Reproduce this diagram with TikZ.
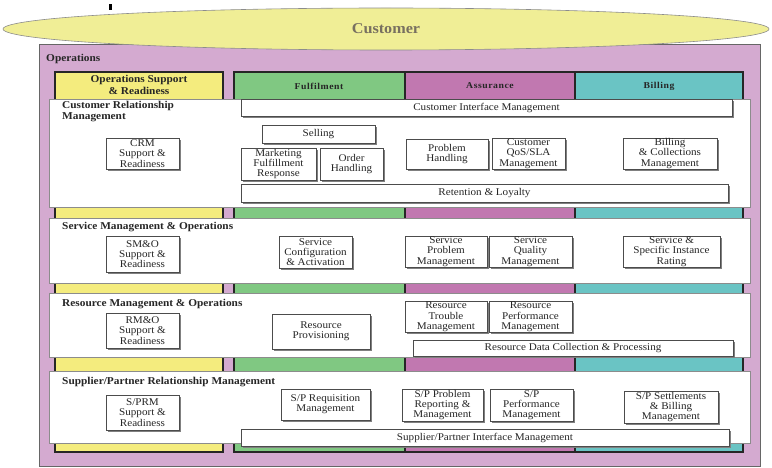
\documentclass[tikz,border=0pt]{standalone}
\usepackage{fontspec}
\setmainfont{Liberation Serif}[FakeStretch=1.08]
\usetikzlibrary{shadows,shapes.geometric}
\definecolor{opsfill}{RGB}{212,170,208}
\definecolor{colyel}{RGB}{244,236,126}
\definecolor{colgrn}{RGB}{128,200,130}
\definecolor{colmag}{RGB}{193,120,176}
\definecolor{colcyn}{RGB}{106,196,196}
\definecolor{ellfill}{RGB}{240,238,150}
\definecolor{custtext}{RGB}{120,112,96}
\tikzset{
  fbox/.style={draw=black!70, line width=0.5pt, fill=white, inner sep=0.5pt,
    align=center, font=\fontsize{10.3}{10.3}\selectfont, text=black!85,
    drop shadow={shadow xshift=1.6pt, shadow yshift=-1.6pt, fill=black!50, opacity=1}},
  band/.style={draw=black!45, line width=0.6pt, fill=white},
  column/.style={draw=black!85, line width=1.1pt},
  bandtitle/.style={font=\fontsize{10.5}{11.5}\selectfont\bfseries, text=black!85, inner sep=0pt, align=left},
  colhead/.style={font=\fontsize{9}{10}\selectfont\bfseries\addfontfeature{LetterSpace=6}, text=black!85, inner sep=0pt, align=center},
}
\newcommand\mybox[6]{\node[fbox, minimum width={(#4-#2)*1pt}, minimum height={(#5-#3)*1pt}] (#1) at ({(#2+#4)/2},{(#3+#5)/2}) {#6};}
\begin{document}
\begin{tikzpicture}[x=1pt,y=-1pt]
\useasboundingbox (0,0) rectangle (772,468);
\fill[white] (0,0) rectangle (772,468);
% operations frame
\draw[fill=opsfill, draw=black!60, line width=0.6pt] (39,44) rectangle (760,466);
\node[font=\fontsize{10.5}{11}\selectfont\bfseries, text=black!85, anchor=west, inner sep=0pt] (opslabel) at (46,59) {Operations};
% columns
\draw[column, fill=colyel] (55,72) rectangle (223,452);
\draw[column, fill=colgrn] (234,72) rectangle (405,452);
\draw[column, fill=colmag] (405,72) rectangle (575,452);
\draw[column, fill=colcyn] (575,72) rectangle (743,452);
\node[colhead, font=\fontsize{10.5}{11.5}\selectfont\bfseries] (hosr) at (139,85) {Operations Support\\\& Readiness};
\node[colhead] (hful) at (319,86) {Fulfilment};
\node[colhead] (hass) at (490,86) {Assurance};
\node[colhead] (hbil) at (659,86) {Billing};
% bands
\draw[band] (49,99) rectangle (750,207);
\draw[band] (49,218) rectangle (750,283);
\draw[band] (49,293) rectangle (750,357);
\draw[band] (49,371) rectangle (750,443);
\node[bandtitle, anchor=north west] (tcrm) at (62,101) {Customer Relationship\\Management};
\node[bandtitle, anchor=west] (tsmo) at (62,227) {Service Management \& Operations};
\node[bandtitle, anchor=west] (trmo) at (62,304) {Resource Management \& Operations};
\node[bandtitle, anchor=west] (tspr) at (62,382) {Supplier/Partner Relationship Management};
% CRM
\mybox{crm}{106}{138}{179}{169}{CRM\\Support \&\\Readiness}
\mybox{cim}{241}{99}{732}{116}{Customer Interface Management}
\mybox{sell}{262}{125}{375}{143}{Selling}
\mybox{mfr}{241}{148}{316}{180}{Marketing\\Fulfillment\\Response}
\mybox{oh}{320}{148}{383}{180}{Order\\Handling}
\mybox{ph}{406}{139}{488}{169}{Problem\\Handling}
\mybox{qos}{492}{138}{565}{169}{Customer\\QoS/SLA\\Management}
\mybox{bcm}{623}{138}{717}{169}{Billing\\\& Collections\\Management}
\mybox{ret}{241}{184}{728}{202}{Retention \& Loyalty}
% SM&O
\mybox{smo}{106}{236}{179}{272}{SM\&O\\Support \&\\Readiness}
\mybox{sca}{279}{236}{352}{268}{Service\\Configuration\\\& Activation}
\mybox{spm}{405}{236}{487}{267}{Service\\Problem\\Management}
\mybox{sqm}{489}{236}{572}{267}{Service\\Quality\\Management}
\mybox{ssir}{623}{236}{720}{267}{Service \&\\Specific Instance\\Rating}
% RM&O
\mybox{rmo}{106}{313}{179}{348}{RM\&O\\Support \&\\Readiness}
\mybox{rp}{272}{314}{370}{349}{Resource\\Provisioning}
\mybox{rtm}{405}{302}{487}{332}{Resource\\Trouble\\Management}
\mybox{rpm}{489}{302}{572}{332}{Resource\\Performance\\Management}
\mybox{rdc}{413}{340}{733}{356}{Resource Data Collection \& Processing}
% S/PRM
\mybox{sprm}{106}{395}{179}{430}{S/PRM\\Support \&\\Readiness}
\mybox{spr}{281}{389}{370}{420}{S/P Requisition\\Management}
\mybox{sppr}{402}{389}{483}{421}{S/P Problem\\Reporting \&\\Management}
\mybox{spp}{490}{389}{573}{421}{S/P\\Performance\\Management}
\mybox{sps}{624}{391}{718}{423}{S/P Settlements\\\& Billing\\Management}
\mybox{spi}{241}{429}{729}{446}{Supplier/Partner Interface Management}
% customer ellipse
\node[ellipse, draw=black!45, line width=0.6pt, fill=ellfill, minimum width=766pt, minimum height=42pt, inner sep=0pt,
  font=\fontsize{15}{16}\selectfont\bfseries, text=custtext] (customer) at (386,29) {Customer};
\fill[black] (109,4) rectangle (111.5,10);
\end{tikzpicture}
\end{document}
